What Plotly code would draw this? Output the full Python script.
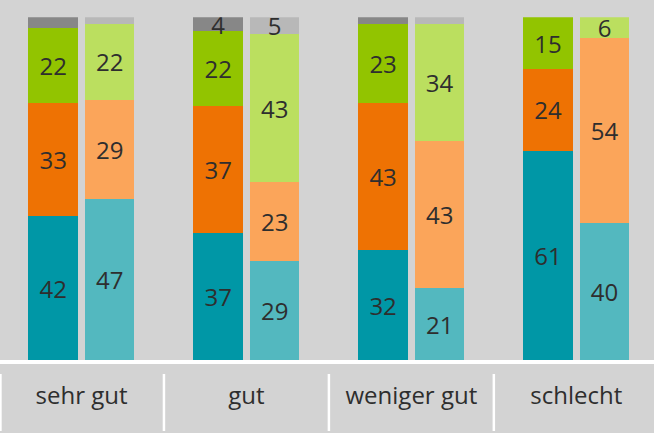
import plotly.graph_objects as go

categories = ["sehr gut", "gut", "weniger gut", "schlecht"]

# dark bars (first of each pair)
dark_teal = [42, 37, 32, 61]
dark_orange = [33, 37, 43, 24]
dark_green = [22, 22, 23, 15]
dark_gray = [3, 4, 2, 0]

# light bars (second of each pair)
light_teal = [47, 29, 21, 40]
light_orange = [29, 23, 43, 54]
light_green = [22, 43, 34, 6]
light_gray = [2, 5, 2, 0]

TXT = "#2e2e2e"
BG = "#d3d3d3"
FONT = "Open Sans"

idx = list(range(len(categories)))
off = 0.1714
xd = [i - off for i in idx]
xl = [i + off for i in idx]


def labels(vals, min_show=4):
    return [str(v) if v >= min_show else "" for v in vals]


series = [
    (xd, dark_teal, "#0097a6", labels(dark_teal)),
    (xd, dark_orange, "#ee7203", labels(dark_orange)),
    (xd, dark_green, "#92c400", labels(dark_green)),
    (xd, dark_gray, "#878787", labels(dark_gray)),
    (xl, light_teal, "#53b8bf", labels(light_teal)),
    (xl, light_orange, "#fba55a", labels(light_orange)),
    (xl, light_green, "#bbdf5f", labels(light_green)),
    (xl, light_gray, "#b8b8b8", labels(light_gray)),
]

fig = go.Figure()
for x, y, c, t in series:
    fig.add_trace(go.Bar(
        x=x, y=y, width=0.3, marker=dict(color=c, line=dict(width=0)),
        text=t, textposition="inside", insidetextanchor="middle",
        constraintext="none", textangle=0,
        textfont=dict(family=FONT, size=24, color=TXT),
        showlegend=False, hoverinfo="skip",
    ))

shapes = []
for sx in [-0.4914, 0.5, 1.5, 2.5]:
    shapes.append(dict(type="line", xref="x", yref="paper", x0=sx, x1=sx,
                       y0=(433 - 431) / 433, y1=(433 - 374) / 433,
                       line=dict(color="white", width=2.5)))

fig.update_layout(
    width=654, height=433,
    margin=dict(l=0, r=0, t=0, b=0),
    paper_bgcolor=BG, plot_bgcolor=BG,
    barmode="stack",
    shapes=shapes,
    xaxis=dict(range=[-0.494, 3.471], tickvals=idx, ticktext=categories,
               showgrid=False, zeroline=False, showline=True,
               linecolor="white", linewidth=4, ticks="",
               tickfont=dict(family=FONT, size=24, color=TXT),
               ticklabelstandoff=11, automargin=False, fixedrange=True),
    yaxis=dict(range=[0, 100], domain=[(433 - 360) / 433, (433 - 17.3) / 433],
               showgrid=False, zeroline=False, showticklabels=False,
               showline=False, automargin=False, fixedrange=True),
)

fig.write_html("out.html", config={"displayModeBar": False},
               post_script="document.body.style.margin='0';document.body.style.overflow='hidden';")
